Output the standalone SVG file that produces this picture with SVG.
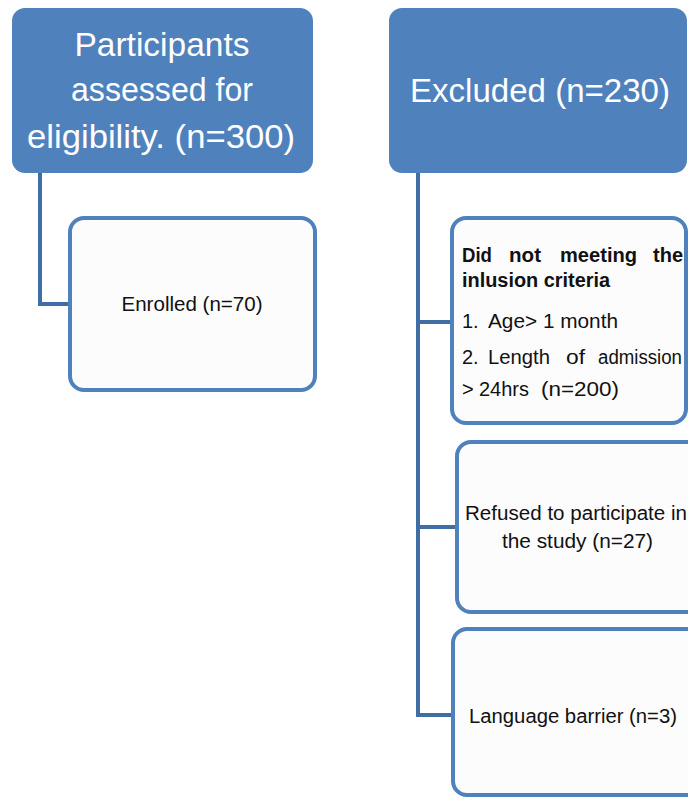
<svg xmlns="http://www.w3.org/2000/svg" width="688" height="798" viewBox="0 0 688 798">
<style>
.head{fill:#4f81bd;}
.htxt{font-family:"Liberation Sans",Arial,sans-serif;font-size:34px;fill:#ffffff;}
.box{fill:#fcfcfd;stroke:#4f81bd;stroke-width:4;}
.txt{font-family:"Liberation Sans",Arial,sans-serif;font-size:20px;fill:#111111;}
.bold{font-weight:bold;}
.conn{fill:none;stroke:#3f6ea5;stroke-width:4;stroke-linejoin:miter;}
</style>
<rect width="688" height="798" fill="#ffffff"/>
<g id="connectors">
<path class="conn" d="M40,173 V304 H70"/>
<path class="conn" d="M418,173 V715 H453 M418,322 H453 M418,527 H457"/>
</g>
<g id="assessed">
<rect class="head" x="12" y="8" width="301" height="165" rx="13"/>
<text class="htxt" x="162" y="56" text-anchor="middle" textLength="175" lengthAdjust="spacingAndGlyphs">Participants</text>
<text class="htxt" x="162" y="101" text-anchor="middle" textLength="182" lengthAdjust="spacingAndGlyphs">assessed for</text>
<text class="htxt" x="161" y="148" text-anchor="middle" textLength="268" lengthAdjust="spacingAndGlyphs">eligibility. (n=300)</text>
</g>
<g id="excluded">
<rect class="head" x="389" y="8" width="298" height="165" rx="13"/>
<text class="htxt" x="540" y="102" text-anchor="middle" textLength="260" lengthAdjust="spacingAndGlyphs">Excluded (n=230)</text>
</g>
<g id="enrolled">
<rect class="box" x="70" y="218" width="245" height="172" rx="14"/>
<text class="txt" x="192" y="311" text-anchor="middle" textLength="141" lengthAdjust="spacingAndGlyphs">Enrolled (n=70)</text>
</g>
<g id="criteria">
<rect class="box" x="452" y="218" width="234" height="205" rx="14"/>
<text class="txt bold" y="262"><tspan x="462" textLength="30" lengthAdjust="spacingAndGlyphs">Did</tspan><tspan x="509" textLength="32" lengthAdjust="spacingAndGlyphs">not</tspan><tspan x="560" textLength="77" lengthAdjust="spacingAndGlyphs">meeting</tspan><tspan x="653" textLength="30" lengthAdjust="spacingAndGlyphs">the</tspan></text>
<text class="txt bold" x="462" y="287" textLength="148" lengthAdjust="spacingAndGlyphs">inlusion criteria</text>
<text class="txt" y="328"><tspan x="462">1.</tspan><tspan x="488" textLength="130" lengthAdjust="spacingAndGlyphs">Age&gt; 1 month</tspan></text>
<text class="txt" y="364"><tspan x="462">2.</tspan><tspan x="488" textLength="62" lengthAdjust="spacingAndGlyphs">Length</tspan><tspan x="566" textLength="19" lengthAdjust="spacingAndGlyphs">of</tspan><tspan x="598" textLength="84" lengthAdjust="spacingAndGlyphs">admission</tspan></text>
<text class="txt" y="396"><tspan x="462">&gt;</tspan><tspan x="479" textLength="50" lengthAdjust="spacingAndGlyphs">24hrs</tspan><tspan x="541" textLength="78" lengthAdjust="spacingAndGlyphs">(n=200)</tspan></text>
</g>
<g id="refused">
<rect class="box" x="457" y="442" width="250" height="170" rx="14"/>
<text class="txt" x="465" y="520" textLength="222" lengthAdjust="spacingAndGlyphs">Refused to participate in</text>
<text class="txt" x="502" y="548" textLength="151" lengthAdjust="spacingAndGlyphs">the study (n=27)</text>
</g>
<g id="language">
<rect class="box" x="453" y="629" width="250" height="166" rx="14"/>
<text class="txt" x="469" y="723" textLength="208" lengthAdjust="spacingAndGlyphs">Language barrier (n=3)</text>
</g>
</svg>
